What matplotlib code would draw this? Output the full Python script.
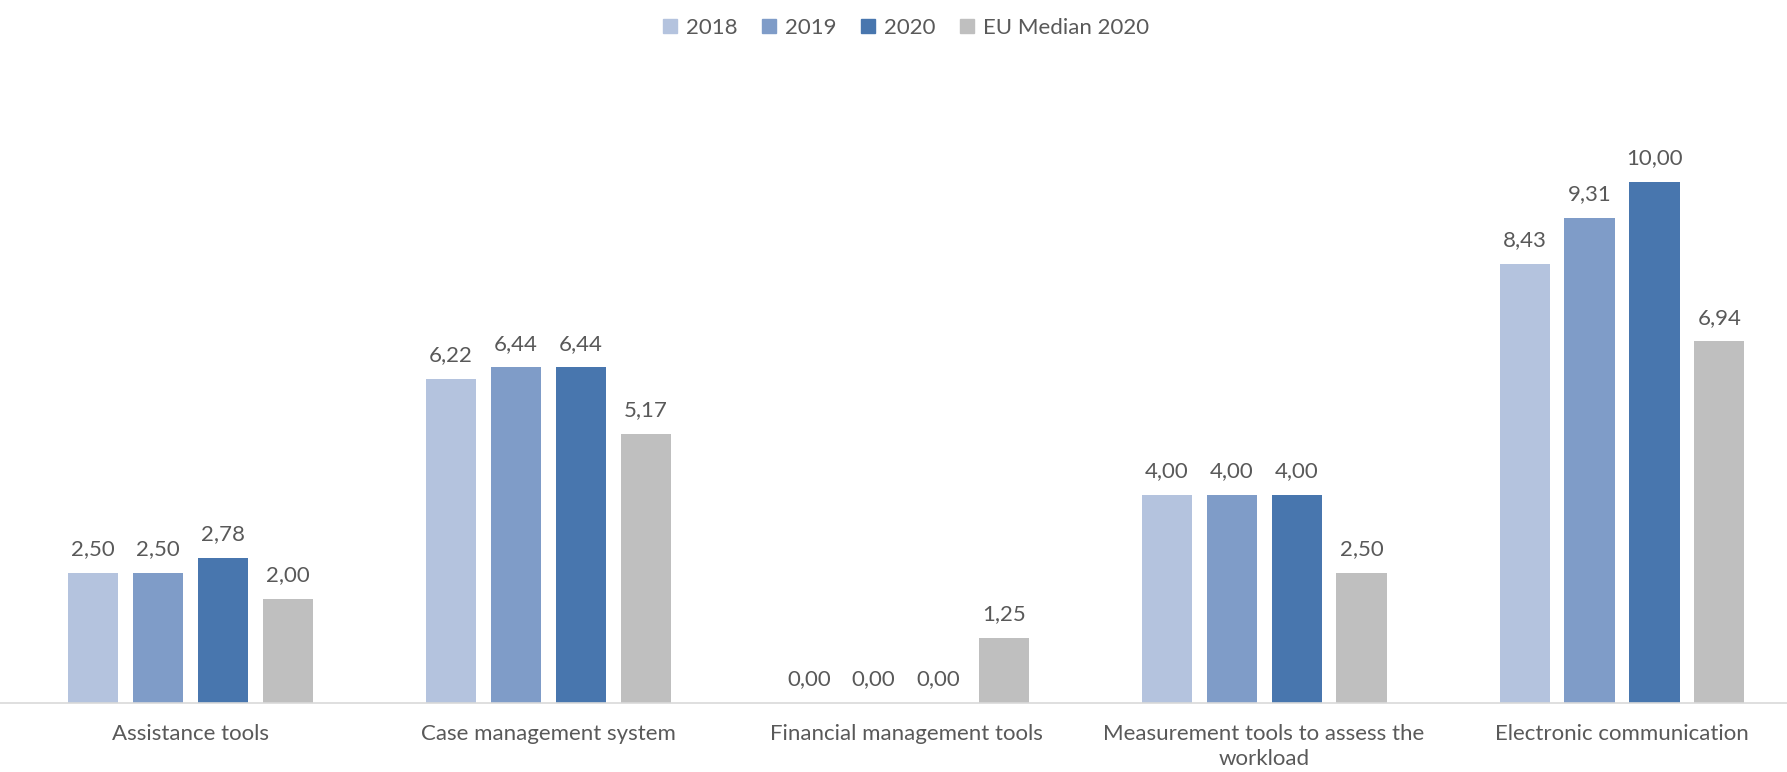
import numpy as np
import matplotlib.pyplot as plt
from matplotlib.patches import Patch

categories = ["Assistance tools", "Case management system", "Financial management tools",
              "Measurement tools to assess the\nworkload", "Electronic communication"]
series = ["2018", "2019", "2020", "EU Median 2020"]
v2018 = [2.50, 6.22, 0.00, 4.00, 8.43]
v2019 = [2.50, 6.44, 0.00, 4.00, 9.31]
v2020 = [2.78, 6.44, 0.00, 4.00, 10.00]
eu2020 = [2.00, 5.17, 1.25, 2.50, 6.94]
colors = ["#b4c3de", "#7f9cc8", "#4876ae", "#bfbfbf"]

plt.rcParams['font.family'] = ['Lato', 'DejaVu Sans']
txt = "#595959"
fs = 16

fig = plt.figure(figsize=(17.87, 7.72), dpi=100)
ax = fig.add_axes([0.0, 0.0894, 1.0, 0.81])

x = np.arange(len(categories))
w = 0.14
pitch = 0.1815
for k, (vals, c) in enumerate(zip([v2018, v2019, v2020, eu2020], colors)):
    pos = x + (k - 1.5) * pitch
    ax.bar(pos, vals, width=w, color=c)
    for p, v in zip(pos, vals):
        ax.text(p, v + 0.26, f"{v:.2f}".replace(".", ","), ha="center", va="bottom",
                fontsize=fs, color=txt)

ax.set_xlim(-0.532, 4.461)
ax.set_ylim(0, 12)
ax.set_xticks(x)
ax.set_xticklabels(categories, fontsize=fs, color=txt, linespacing=1.3)
ax.tick_params(axis="x", length=0, pad=15)
ax.set_yticks([])
for s in ["top", "right", "left"]:
    ax.spines[s].set_visible(False)
ax.spines["bottom"].set_color("#d9d9d9")
ax.spines["bottom"].set_linewidth(1.2)

handles = [Patch(color=c) for c in colors]
fig.legend(handles, series, loc="center", bbox_to_anchor=(0.507, 0.964), ncol=4,
           frameon=False, fontsize=fs, labelcolor=txt, handlelength=0.63,
           handleheight=0.63, handletextpad=0.4, columnspacing=1.1)

fig.savefig("out.png", dpi=100)
